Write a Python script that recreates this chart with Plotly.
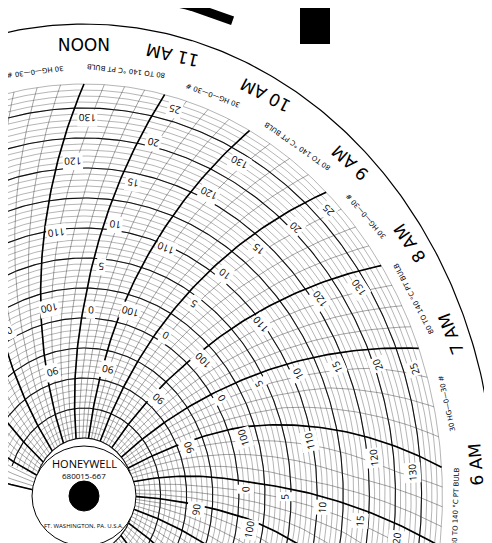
import numpy as np
import plotly.graph_objects as go

# chart paper data
hour_labels = ["NOON", "11 AM", "10 AM", "9 AM", "8 AM", "7 AM", "6 AM", "5 AM", "4 AM"]
hour_angles = [0, 15, 30, 45, 60, 75, 90, 105, 120]  # degrees clockwise from top
ring_texts = ["30 HG—0—30 #", "80 TO 140 °C PT BULB"]
hg_values = [0, 5, 10, 15, 20, 25]
hg_radii = [186, 230, 274, 318, 362, 400]
temp_values = [90, 100, 110, 120, 130]
temp_radii = [129, 192, 265, 335, 378]

cx, cy, sx = 76, 488, 0.87
R_in, R_out = 58, 412

# photo perspective: nominal angle -> apparent angle
warp_in = [-90, 0, 15, 30, 45, 60, 75, 90, 105, 200]
warp_out = [-90, 0, 13, 27.5, 42.5, 56, 69, 86, 97, 192]


def pos(r, th_deg):
    th = np.radians(np.interp(th_deg, warp_in, warp_out))
    return cx + sx * r * np.sin(th), cy - r * np.cos(th)


def bend(r):
    # recorder pen arcs
    return 28 * (r / R_out - 1)


fig = go.Figure()

# concentric circles
t = np.linspace(-70, 200, 400)
for step, w, col in [(6, 0.4, "#444"), (30, 1.1, "#111")]:
    xs, ys = [], []
    for r in np.arange(R_in, R_out + 1, step):
        x, y = pos(r, t)
        xs += list(x) + [None]
        ys += list(y) + [None]
    fig.add_trace(go.Scatter(x=xs, y=ys, mode="lines", line=dict(color=col, width=w),
                             hoverinfo="skip", showlegend=False))

# hour arcs
rr = np.linspace(R_in, R_out, 80)
for step, w, col in [(3.75, 0.45, "#333"), (15, 1.6, "#000")]:
    xs, ys = [], []
    for th in np.arange(-60, 200, step):
        x, y = pos(rr, th + bend(rr))
        xs += list(x) + [None]
        ys += list(y) + [None]
    fig.add_trace(go.Scatter(x=xs, y=ys, mode="lines", line=dict(color=col, width=w),
                             hoverinfo="skip", showlegend=False))

# outer rim
for r, w, tt in [(R_out + 60, 1.2, t), (505, 9, np.linspace(-20, 22, 60))]:
    x, y = pos(r, tt)
    fig.add_trace(go.Scatter(x=x, y=y, mode="lines", line=dict(color="#000", width=w),
                             hoverinfo="skip", showlegend=False))

ann = []
for lab, a in zip(hour_labels, hour_angles):
    x, y = pos(452, a)
    ann.append(dict(x=x, y=y, text=lab, textangle=np.interp(a, warp_in, warp_out) + 180,
                    showarrow=False, font=dict(size=17, color="#000", family="DejaVu Sans")))
for i, a in enumerate(np.arange(-7.5, 140, 15)):
    x, y = pos(428, a)
    ann.append(dict(x=x, y=y, text=ring_texts[i % 2], textangle=np.interp(a, warp_in, warp_out) + 180,
                    showarrow=False, font=dict(size=7, color="#000", family="DejaVu Sans")))
for a in np.arange(-15, 200, 30):
    for v, r in zip(hg_values, hg_radii):
        aa = a + 3 + bend(r)
        x, y = pos(r, aa)
        ann.append(dict(x=x, y=y, text=str(v), textangle=np.interp(aa, warp_in, warp_out) + 180,
                        showarrow=False, bgcolor="white", font=dict(size=10, color="#000")))
    for v, r in zip(temp_values, temp_radii):
        aa = a + 18 + bend(r)
        x, y = pos(r, aa)
        ann.append(dict(x=x, y=y, text=str(v), textangle=np.interp(aa, warp_in, warp_out) + 180,
                        showarrow=False, bgcolor="white", font=dict(size=10, color="#000")))

# hub
ann += [
    dict(x=cx, y=cy - 33, text="HONEYWELL", showarrow=False, font=dict(size=11, color="#000")),
    dict(x=cx, y=cy - 21, text="680015-667", showarrow=False, font=dict(size=8, color="#000")),
    dict(x=cx, y=cy + 30, text="FT. WASHINGTON, PA. U.S.A.", showarrow=False,
         font=dict(size=6, color="#000")),
]
shapes = [
    dict(type="circle", x0=cx - 52, x1=cx + 52, y0=cy - 50, y1=cy + 50,
         fillcolor="white", line=dict(color="#000", width=1), layer="above"),
    dict(type="circle", x0=cx - 15, x1=cx + 15, y0=cy - 15, y1=cy + 15,
         fillcolor="#000", line=dict(color="#000", width=1), layer="above"),
    dict(type="rect", x0=292, x1=322, y0=0, y1=36, fillcolor="#000",
         line=dict(width=0), layer="above"),
]

fig.update_layout(
    width=492, height=543, margin=dict(l=0, r=0, t=0, b=0),
    paper_bgcolor="white", plot_bgcolor="white",
    xaxis=dict(range=[0, 492], visible=False, fixedrange=True),
    yaxis=dict(range=[543, 0], visible=False, fixedrange=True),
    annotations=ann, shapes=shapes,
)
fig.write_html("out.html")
